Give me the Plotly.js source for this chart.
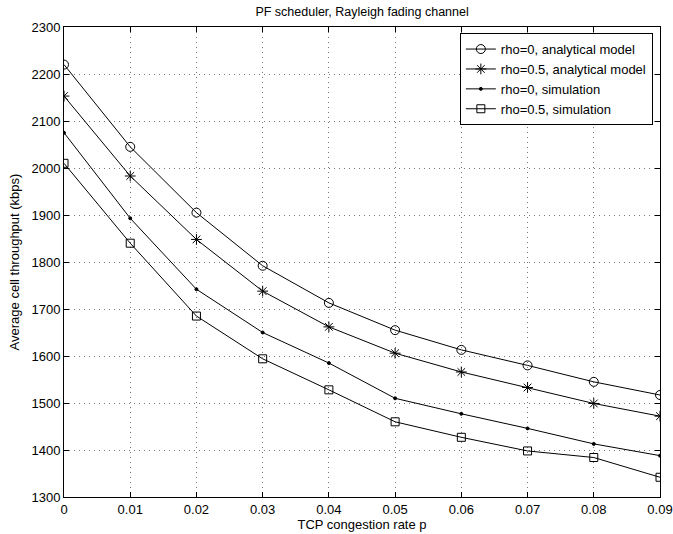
<!DOCTYPE html>
<html>
<head>
<meta charset="utf-8">
<script src="https://cdn.plot.ly/plotly-3.0.1.min.js"></script>
<style>html,body{margin:0;padding:0;background:#fff;}#chart{width:673px;height:534px;}</style>
</head>
<body>
<div id="chart"></div>
<script>
const p = [0, 0.01, 0.02, 0.03, 0.04, 0.05, 0.06, 0.07, 0.08, 0.09];
const rho0Analytical = [2220, 2045, 1905, 1792, 1713, 1655, 1613, 1580, 1545, 1517];
const rho05Analytical = [2153, 1983, 1848, 1738, 1662, 1606, 1566, 1533, 1499, 1472];
const rho0Simulation = [2075, 1893, 1742, 1650, 1585, 1510, 1477, 1446, 1413, 1388];
const rho05Simulation = [2010, 1840, 1685, 1594, 1528, 1460, 1427, 1398, 1384, 1342];
const seriesNames = ["rho=0, analytical model", "rho=0.5, analytical model", "rho=0, simulation", "rho=0.5, simulation"];
const xTicks = [0, 0.01, 0.02, 0.03, 0.04, 0.05, 0.06, 0.07, 0.08, 0.09];
const xTickLabels = ["0", "0.01", "0.02", "0.03", "0.04", "0.05", "0.06", "0.07", "0.08", "0.09"];
const yTicks = [1300, 1400, 1500, 1600, 1700, 1800, 1900, 2000, 2100, 2200, 2300];

const font = "Liberation Sans, Arial, Helvetica, sans-serif";
const ys = [rho0Analytical, rho05Analytical, rho0Simulation, rho05Simulation];
const symbols = ["circle-open", "asterisk-open", "circle", "square-open"];
const sizes = [9, 9, 3, 8];

const traces = ys.map((y, i) => ({
  x: p, y: y, name: seriesNames[i], type: "scatter", mode: "lines+markers",
  line: {color: "#000", width: 1},
  marker: {symbol: symbols[i], size: sizes[i], color: "#000", line: {color: "#000", width: 1}}
}));

const axisCommon = {
  showline: true, linecolor: "#000", linewidth: 1, mirror: "ticks",
  ticks: "inside", ticklen: 5, tickcolor: "#000", tickwidth: 1,
  showgrid: true, gridcolor: "#777", gridwidth: 1, griddash: "1px,4px",
  zeroline: false, tickfont: {family: font, size: 13, color: "#000"}
};

const layout = {
  width: 673, height: 534,
  margin: {l: 64, r: 13, t: 27, b: 37},
  paper_bgcolor: "#fff", plot_bgcolor: "#fff",
  font: {family: font, size: 13, color: "#000"},
  title: {text: "PF scheduler, Rayleigh fading channel", font: {family: font, size: 12.5, color: "#000"}, x: 0.538, xanchor: "center", y: 0.978, yanchor: "middle"},
  xaxis: Object.assign({}, axisCommon, {
    range: [0, 0.09], tickvals: xTicks, ticktext: xTickLabels,
    title: {text: "TCP congestion rate p", font: {family: font, size: 13, color: "#000"}, standoff: 2}
  }),
  yaxis: Object.assign({}, axisCommon, {
    range: [1300, 2300], tickvals: yTicks,
    title: {text: "Average cell throughput (kbps)", font: {family: font, size: 13, color: "#000"}, standoff: 8}
  }),
  legend: {
    x: 0.988, y: 0.987, xanchor: "right", yanchor: "top",
    bgcolor: "#fff", bordercolor: "#000", borderwidth: 1,
    font: {family: font, size: 13, color: "#000"},
    tracegroupgap: 0, itemwidth: 30
  },
  showlegend: true
};

Plotly.newPlot("chart", traces, layout, {displayModeBar: false, staticPlot: true});
</script>
</body>
</html>
